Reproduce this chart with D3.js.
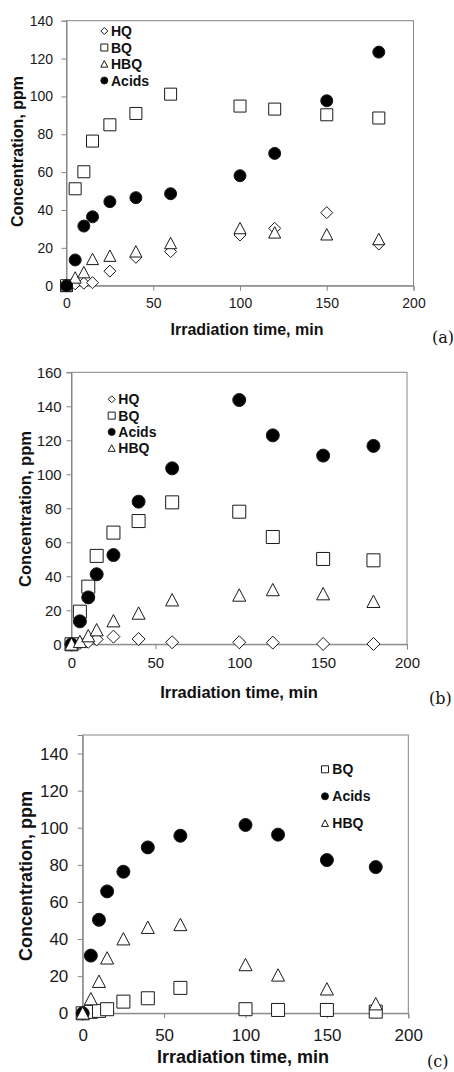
<!DOCTYPE html>
<html>
<head>
<meta charset="utf-8">
<script src="https://cdn.jsdelivr.net/npm/d3@7"></script>
<style>
  html, body { margin: 0; padding: 0; background: #fff; }
  svg { display: block; }
</style>
</head>
<body>
<svg id="fig" width="454" height="1072"></svg>
<script>
// Sampling times (min), shared by all three experiments
const times = [0, 5, 10, 15, 25, 40, 60, 100, 120, 150, 180];

// Experiment (a)
const hqA    = [0, 1.0, 1.3, 1.6, 7.7, 15.0, 18.0, 26.8, 30.3, 38.6, 22.0];
const bqA    = [0, 51.2, 60.2, 76.4, 85.0, 91.0, 101.2, 94.9, 93.3, 90.3, 88.6];
const hbqA   = [0, 4.2, 7.0, 14.0, 15.7, 18.0, 22.4, 30.3, 28.0, 27.0, 24.5];
const acidsA = [0, 13.6, 31.5, 36.4, 44.4, 46.5, 48.6, 58.1, 69.9, 97.7, 123.4];

// Experiment (b)
const hqB    = [0, 0.8, 1.5, 2.9, 4.5, 3.1, 1.2, 1.2, 1.0, 0.2, 0.2];
const bqB    = [0, 19.2, 33.9, 52.0, 65.7, 72.5, 83.5, 78.0, 63.1, 50.2, 49.4];
const acidsB = [0, 13.5, 27.6, 41.2, 52.5, 83.9, 103.5, 143.7, 122.9, 111.0, 116.7];
const hbqB   = [0, 1.5, 4.9, 8.4, 13.7, 18.2, 26.0, 28.8, 32.0, 29.6, 25.1];

// Experiment (c)
const bqC    = [0, 0.8, 1.3, 2.2, 6.3, 8.1, 13.7, 2.2, 1.8, 1.8, 0.9];
const acidsC = [0, 31.1, 50.4, 65.7, 76.3, 89.4, 95.7, 101.5, 96.3, 82.6, 78.8];
const hbqC   = [0, 7.7, 17.1, 29.7, 40.0, 46.2, 47.7, 26.1, 20.5, 13.0, 5.0];

// Axis ticks
const xTicks = [0, 50, 100, 150, 200];
const yTicksA = [0, 20, 40, 60, 80, 100, 120, 140];
const yTicksB = [0, 20, 40, 60, 80, 100, 120, 140, 160];
const yTicksC = [0, 20, 40, 60, 80, 100, 120, 140];

const xTitle = "Irradiation time, min";
const yTitle = "Concentration, ppm";

// Marker shapes, each centred on its bounding box
function markerPath(shape, s) {
  const h = s / 2;
  const p = d3.path();
  if (shape === "square") {
    p.rect(-h, -h, s, s);
  } else if (shape === "diamond") {
    p.moveTo(0, -h); p.lineTo(h, 0); p.lineTo(0, h); p.lineTo(-h, 0); p.closePath();
  } else if (shape === "triangle") {
    p.moveTo(0, -h); p.lineTo(h, h * 0.9); p.lineTo(-h, h * 0.9); p.closePath();
  } else {
    p.arc(0, 0, h, 0, 2 * Math.PI);
  }
  return p.toString();
}

const styles = {
  HQ:    { shape: "diamond",  fill: "#fff" },
  BQ:    { shape: "square",   fill: "#fff" },
  HBQ:   { shape: "triangle", fill: "#fff" },
  Acids: { shape: "circle",   fill: "#000" }
};

const panels = [
  {
    series: [["HQ", hqA], ["BQ", bqA], ["HBQ", hbqA], ["Acids", acidsA]],
    x0: 66.5, x1: 413.5, yTop: 20.7, yBot: 285.7, yMax: 140, yTicks: yTicksA,
    tickFont: 14, yLabelRight: 53, xLabelBase: 308,
    titleFont: 16, yTitleX: 22.5, yTitleY: 151.5, xTitleX: 247, xTitleBase: 334.5,
    marker: 12, leg: { x: 104.3, y: 31, dy: 16.5, tx: 111, ms: 7 },
    tag: "(a)", tagX: 432, tagY: 343
  },
  {
    series: [["HQ", hqB], ["BQ", bqB], ["Acids", acidsB], ["HBQ", hbqB]],
    x0: 71.5, x1: 407, yTop: 372.3, yBot: 644.3, yMax: 160, yTicks: yTicksB,
    tickFont: 15, yLabelRight: 61.7, xLabelBase: 668.5,
    titleFont: 16.5, yTitleX: 30.5, yTitleY: 509, xTitleX: 239, xTitleBase: 698,
    marker: 13, leg: { x: 111.7, y: 399.3, dy: 16.3, tx: 118.3, ms: 7 },
    tag: "(b)", tagX: 429, tagY: 704
  },
  {
    series: [["BQ", bqC], ["Acids", acidsC], ["HBQ", hbqC]],
    x0: 82.7, x1: 408.3, yTop: 735, yBot: 1013.3, yMax: 150, yTicks: yTicksC,
    tickFont: 17, yLabelRight: 68.3, xLabelBase: 1041,
    titleFont: 18, yTitleX: 32, yTitleY: 876, xTitleX: 243, xTitleBase: 1063,
    marker: 13, leg: { x: 325, y: 769.3, dy: 27, tx: 332.3, ms: 7 },
    tag: "(c)", tagX: 427, tagY: 1067
  }
];

const svg = d3.select("#fig");
svg.append("rect").attr("width", 454).attr("height", 1072).attr("fill", "#fff");

const sans = "'Liberation Sans', Arial, sans-serif";
const axisGray = "#868686";

panels.forEach(pn => {
  const x = d3.scaleLinear().domain([0, 200]).range([pn.x0, pn.x1]);
  const y = d3.scaleLinear().domain([0, pn.yMax]).range([pn.yBot, pn.yTop]);
  const g = svg.append("g");

  // Plot-area frame
  g.append("rect")
    .attr("x", pn.x0).attr("y", pn.yTop)
    .attr("width", pn.x1 - pn.x0).attr("height", pn.yBot - pn.yTop)
    .attr("fill", "none").attr("stroke", axisGray).attr("stroke-width", 1);

  // Y axis
  const yAxis = d3.axisLeft(y).tickValues(pn.yTicks).tickSize(5).tickPadding(0).tickFormat(d3.format("d"));
  const ya = g.append("g").attr("transform", `translate(${pn.x0},0)`).call(yAxis);
  ya.select(".domain").attr("stroke", axisGray);
  ya.selectAll(".tick line").attr("stroke", axisGray);
  ya.selectAll(".tick text")
    .attr("x", pn.yLabelRight - pn.x0)
    .attr("font-family", sans).attr("font-size", pn.tickFont).attr("fill", "#1a1a1a");

  // X axis
  const xAxis = d3.axisBottom(x).tickValues(xTicks).tickSize(5).tickPadding(0).tickFormat(d3.format("d"));
  const xa = g.append("g").attr("transform", `translate(0,${pn.yBot})`).call(xAxis);
  xa.select(".domain").attr("stroke", axisGray);
  xa.selectAll(".tick line").attr("stroke", axisGray);
  xa.selectAll(".tick text")
    .attr("y", pn.xLabelBase - pn.yBot).attr("dy", 0)
    .attr("font-family", sans).attr("font-size", pn.tickFont).attr("fill", "#1a1a1a");

  // Axis titles
  g.append("text")
    .attr("transform", `translate(${pn.yTitleX},${pn.yTitleY}) rotate(-90)`)
    .attr("text-anchor", "middle")
    .attr("font-family", sans).attr("font-weight", "bold").attr("font-size", pn.titleFont)
    .attr("fill", "#111").text(yTitle);
  g.append("text")
    .attr("x", pn.xTitleX).attr("y", pn.xTitleBase)
    .attr("text-anchor", "middle")
    .attr("font-family", sans).attr("font-weight", "bold").attr("font-size", pn.titleFont)
    .attr("fill", "#111").text(xTitle);

  // Data markers, series drawn in legend order
  pn.series.forEach(([name, vals]) => {
    const st = styles[name];
    g.append("g").selectAll("path")
      .data(times.map((t, i) => ({ t, v: vals[i] })))
      .join("path")
      .attr("transform", d => `translate(${x(d.t)},${y(d.v)})`)
      .attr("d", markerPath(st.shape, pn.marker))
      .attr("fill", st.fill)
      .attr("stroke", "#1a1a1a").attr("stroke-width", 1);
  });

  // Legend
  const lg = g.append("g");
  pn.series.forEach(([name], i) => {
    const st = styles[name];
    const ly = pn.leg.y + i * pn.leg.dy;
    lg.append("path")
      .attr("transform", `translate(${pn.leg.x},${ly})`)
      .attr("d", markerPath(st.shape, pn.leg.ms))
      .attr("fill", st.fill).attr("stroke", "#1a1a1a").attr("stroke-width", 1);
    lg.append("text")
      .attr("x", pn.leg.tx).attr("y", ly + 5)
      .attr("font-family", sans).attr("font-weight", "bold").attr("font-size", 14)
      .attr("fill", "#111").text(name);
  });

  // Panel tag
  g.append("text")
    .attr("x", pn.tagX).attr("y", pn.tagY)
    .attr("font-family", "'DejaVu Serif', 'Liberation Serif', serif").attr("font-size", 16)
    .attr("fill", "#111").text(pn.tag);
});
</script>
</body>
</html>
